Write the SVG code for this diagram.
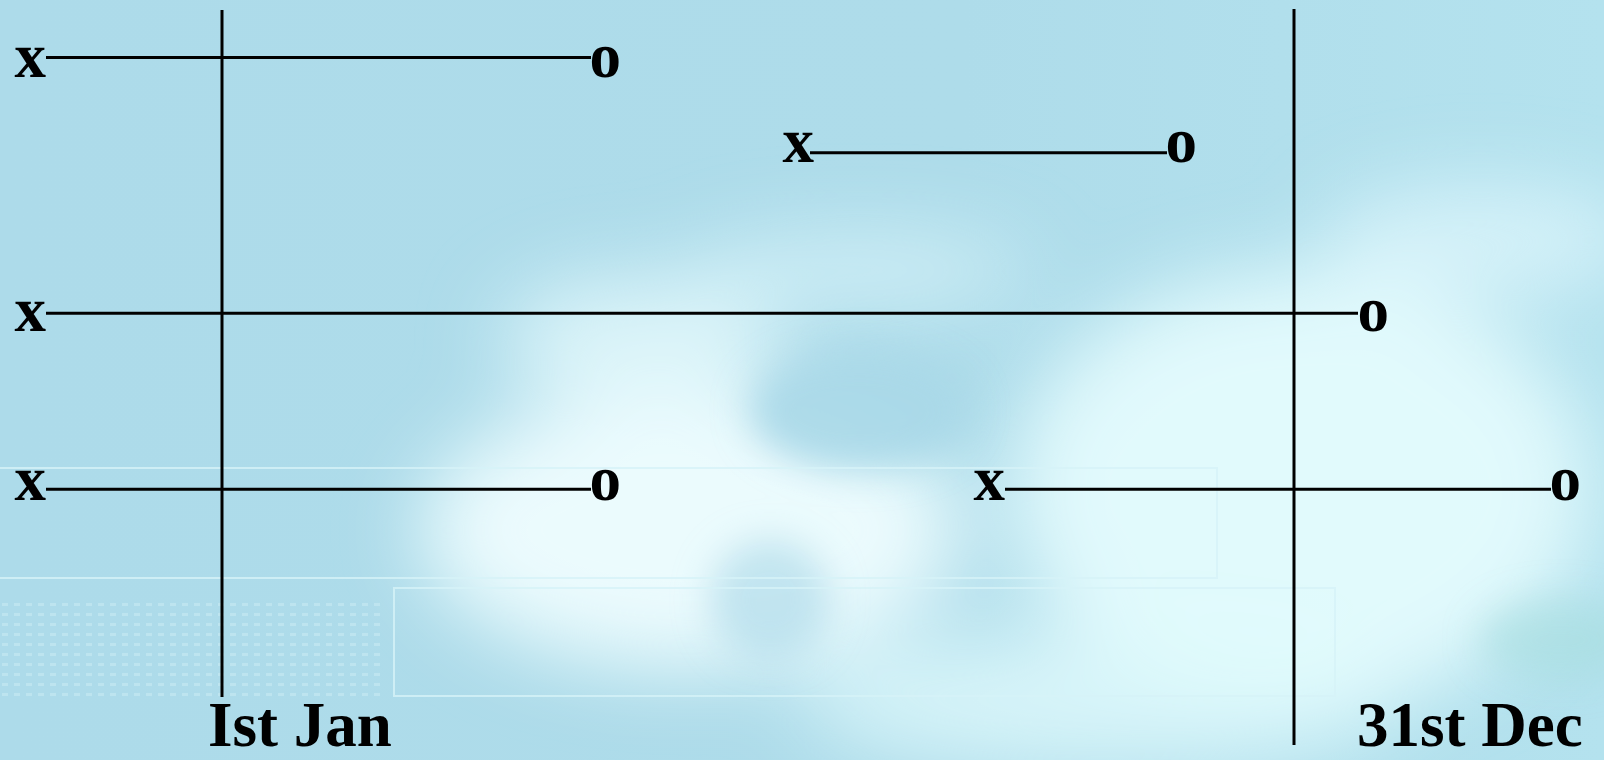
<svg xmlns="http://www.w3.org/2000/svg" width="1604" height="760" viewBox="0 0 1604 760">
<defs>
<filter id="blur" x="-50%" y="-50%" width="200%" height="200%"><feGaussianBlur stdDeviation="40"/></filter>
<filter id="blur2" x="-50%" y="-50%" width="200%" height="200%"><feGaussianBlur stdDeviation="18"/></filter>
<linearGradient id="bg" x1="0" y1="0" x2="1" y2="0">
<stop offset="0" stop-color="#ADDBEA"/><stop offset="0.6" stop-color="#AEDCEA"/><stop offset="1" stop-color="#B4E2EE"/>
</linearGradient>
<pattern id="dots" width="12" height="10" patternUnits="userSpaceOnUse"><rect x="2" y="3" width="6" height="3" fill="#C8E9F2" opacity="0.6"/></pattern>
<style>
.ln{stroke:#000;stroke-width:3;fill:none}
.t{font-family:"Liberation Serif","Times New Roman",serif;font-weight:bold;font-size:63px;fill:#000}
.faint{stroke:#D6F2F8;stroke-width:2;fill:none;opacity:0.8}
</style>
</defs>
<g id="background">
<rect width="1604" height="760" fill="url(#bg)"/>
<g filter="url(#blur)">
<ellipse cx="690" cy="530" rx="270" ry="140" fill="#F2FEFF" opacity="0.9"/>
<ellipse cx="640" cy="340" rx="140" ry="65" fill="#E6FAFD" opacity="0.8"/>
<ellipse cx="860" cy="270" rx="170" ry="35" fill="#E0F8FC" opacity="0.7"/>
<ellipse cx="1300" cy="490" rx="290" ry="220" fill="#E4FBFD" opacity="0.95"/>
<ellipse cx="1480" cy="240" rx="160" ry="55" fill="#E4FAFD" opacity="0.7"/>
<ellipse cx="1100" cy="700" rx="300" ry="70" fill="#E0FAFC" opacity="0.8"/>
</g>
<g filter="url(#blur2)">
<ellipse cx="860" cy="410" rx="110" ry="60" fill="#A8D8E8" opacity="0.9"/>
<ellipse cx="770" cy="600" rx="60" ry="60" fill="#B0DCEA" opacity="0.7"/>
<ellipse cx="1560" cy="640" rx="80" ry="40" fill="#A6DDE0" opacity="0.6"/>
</g>
<rect x="0" y="598" width="380" height="100" fill="url(#dots)"/>
<path class="faint" d="M0 468 H1217 V578 H0"/>
<rect class="faint" x="394" y="588" width="941" height="108"/>
</g>
<g id="connectors">
<line class="ln" x1="222" y1="10" x2="222" y2="697"/>
<line class="ln" x1="1294" y1="9" x2="1294" y2="745"/>
<line class="ln" x1="46" y1="57.5" x2="591" y2="57.5"/>
<line class="ln" x1="810" y1="152.7" x2="1167" y2="152.7"/>
<line class="ln" x1="46" y1="313.3" x2="1358" y2="313.3"/>
<line class="ln" x1="46" y1="489.3" x2="591" y2="489.3"/>
<line class="ln" x1="1005" y1="489.3" x2="1551" y2="489.3"/>
</g>
<g id="row1-start"><text class="t" x="14.5" y="77">x</text></g>
<g id="row1-end"><text class="t" x="589.5" y="77">o</text></g>
<g id="row2-start"><text class="t" x="782.5" y="161.5">x</text></g>
<g id="row2-end"><text class="t" x="1165.5" y="161.5">o</text></g>
<g id="row3-start"><text class="t" x="14.5" y="330.5">x</text></g>
<g id="row3-end"><text class="t" x="1357.5" y="330.5">o</text></g>
<g id="row4-start"><text class="t" x="14.5" y="500">x</text></g>
<g id="row4-end"><text class="t" x="589.5" y="500">o</text></g>
<g id="row5-start"><text class="t" x="973.5" y="500">x</text></g>
<g id="row5-end"><text class="t" x="1549.5" y="500">o</text></g>
<g id="label-jan"><text class="t" x="208" y="746">Ist Jan</text></g>
<g id="label-dec"><text class="t" x="1357" y="746">31st Dec</text></g>
</svg>
